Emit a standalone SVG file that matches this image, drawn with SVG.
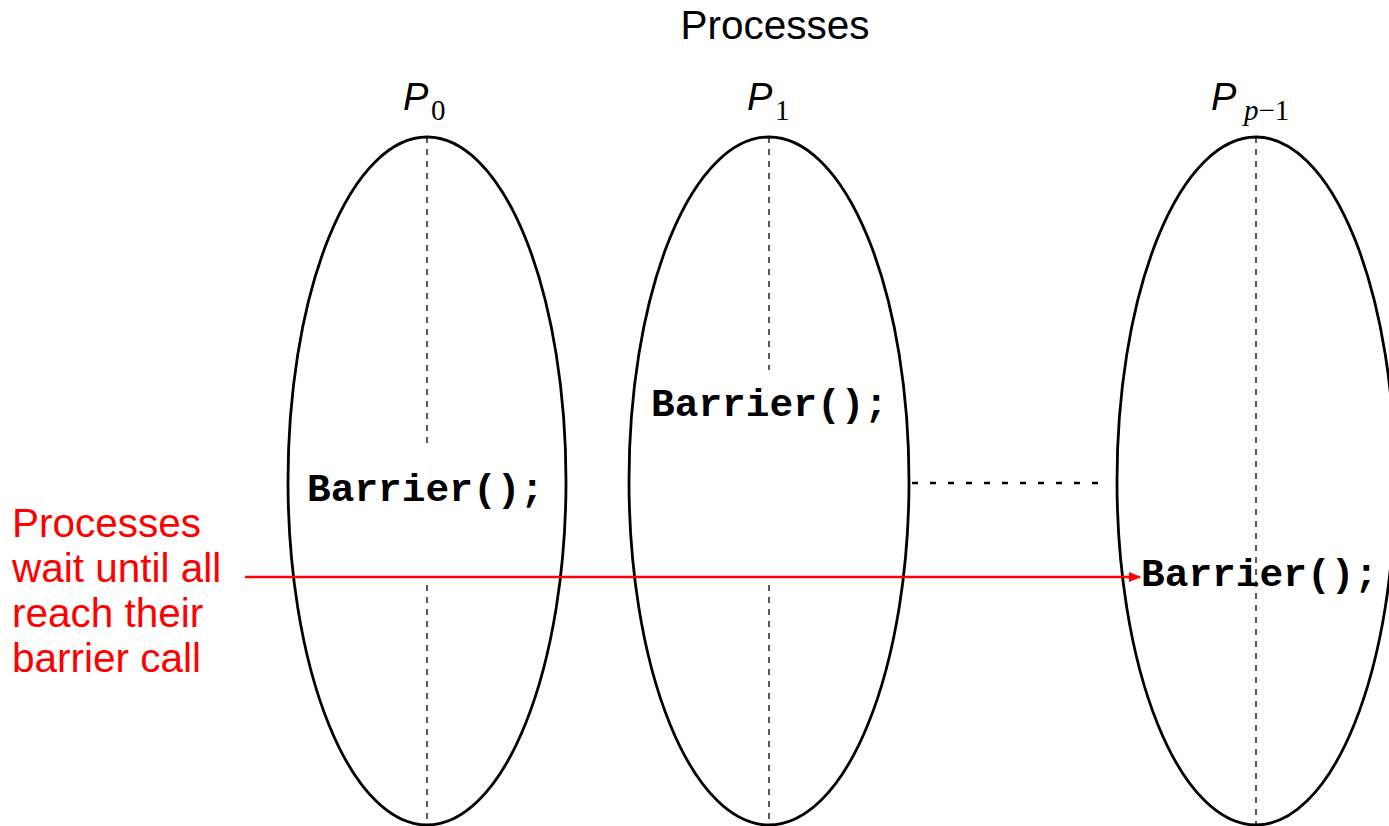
<svg xmlns="http://www.w3.org/2000/svg" width="1389" height="826" viewBox="0 0 1389 826">
<style>
.proc{fill:none;stroke:#000;stroke-width:2.8}
.axis{stroke:#000;stroke-width:1.3;stroke-dasharray:6,6}
.code{font-family:"Liberation Mono","Courier New",monospace;font-weight:bold;font-size:39.5px;fill:#000}
.lbl{font-family:"Liberation Sans",Arial,sans-serif;font-style:italic;font-size:38px;fill:#000}
.sub{font-family:"Liberation Serif","Times New Roman",serif;font-size:29px;fill:#000}
.note{font-family:"Liberation Sans",Arial,sans-serif;font-size:40.5px;fill:#ff0000}
</style>
<defs>
<marker id="ah" markerWidth="12" markerHeight="10" refX="11" refY="5" orient="auto" markerUnits="userSpaceOnUse">
<path d="M0,0 L12,5 L0,10 Z" fill="#ff0000"/>
</marker>
</defs>
<rect width="1389" height="826" fill="#fff"/>
<text x="775" y="39" text-anchor="middle" font-family="Liberation Sans, Arial, sans-serif" font-size="40.5" fill="#000">Processes</text>
<g id="p0">
<ellipse class="proc" cx="427" cy="481" rx="139" ry="344"/>
<line class="axis" x1="427" y1="137" x2="427" y2="448"/>
<line class="axis" x1="427" y1="585" x2="427" y2="826"/>
<text class="lbl" x="403" y="110">P</text><text class="sub" x="431" y="120">0</text>
<text class="code" x="307" y="501">Barrier();</text>
</g>
<g id="p1">
<ellipse class="proc" cx="769" cy="481" rx="140" ry="344"/>
<line class="axis" x1="769" y1="137" x2="769" y2="370"/>
<line class="axis" x1="769" y1="585" x2="769" y2="826"/>
<text class="lbl" x="747" y="110">P</text><text class="sub" x="775" y="120">1</text>
<text class="code" x="651" y="416">Barrier();</text>
</g>
<g id="pp1">
<ellipse class="proc" cx="1256" cy="481" rx="139" ry="344"/>
<line class="axis" x1="1256" y1="137" x2="1256" y2="826"/>
<text class="lbl" x="1211" y="110">P</text><text class="sub" x="1244" y="120"><tspan font-style="italic">p</tspan>−1</text>
<text class="code" x="1141" y="586">Barrier();</text>
</g>
<g id="note">
<text class="note" x="12" y="537">Processes</text>
<text class="note" x="12" y="582">wait until all</text>
<text class="note" x="12" y="627">reach their</text>
<text class="note" x="12" y="672">barrier call</text>
</g>
<g id="connectors">
<line x1="912" y1="483" x2="1102" y2="483" stroke="#000" stroke-width="2.5" stroke-dasharray="6,12"/>
<line x1="245" y1="577" x2="1140" y2="577" stroke="#ff0000" stroke-width="2.5" marker-end="url(#ah)"/>
</g>
</svg>
